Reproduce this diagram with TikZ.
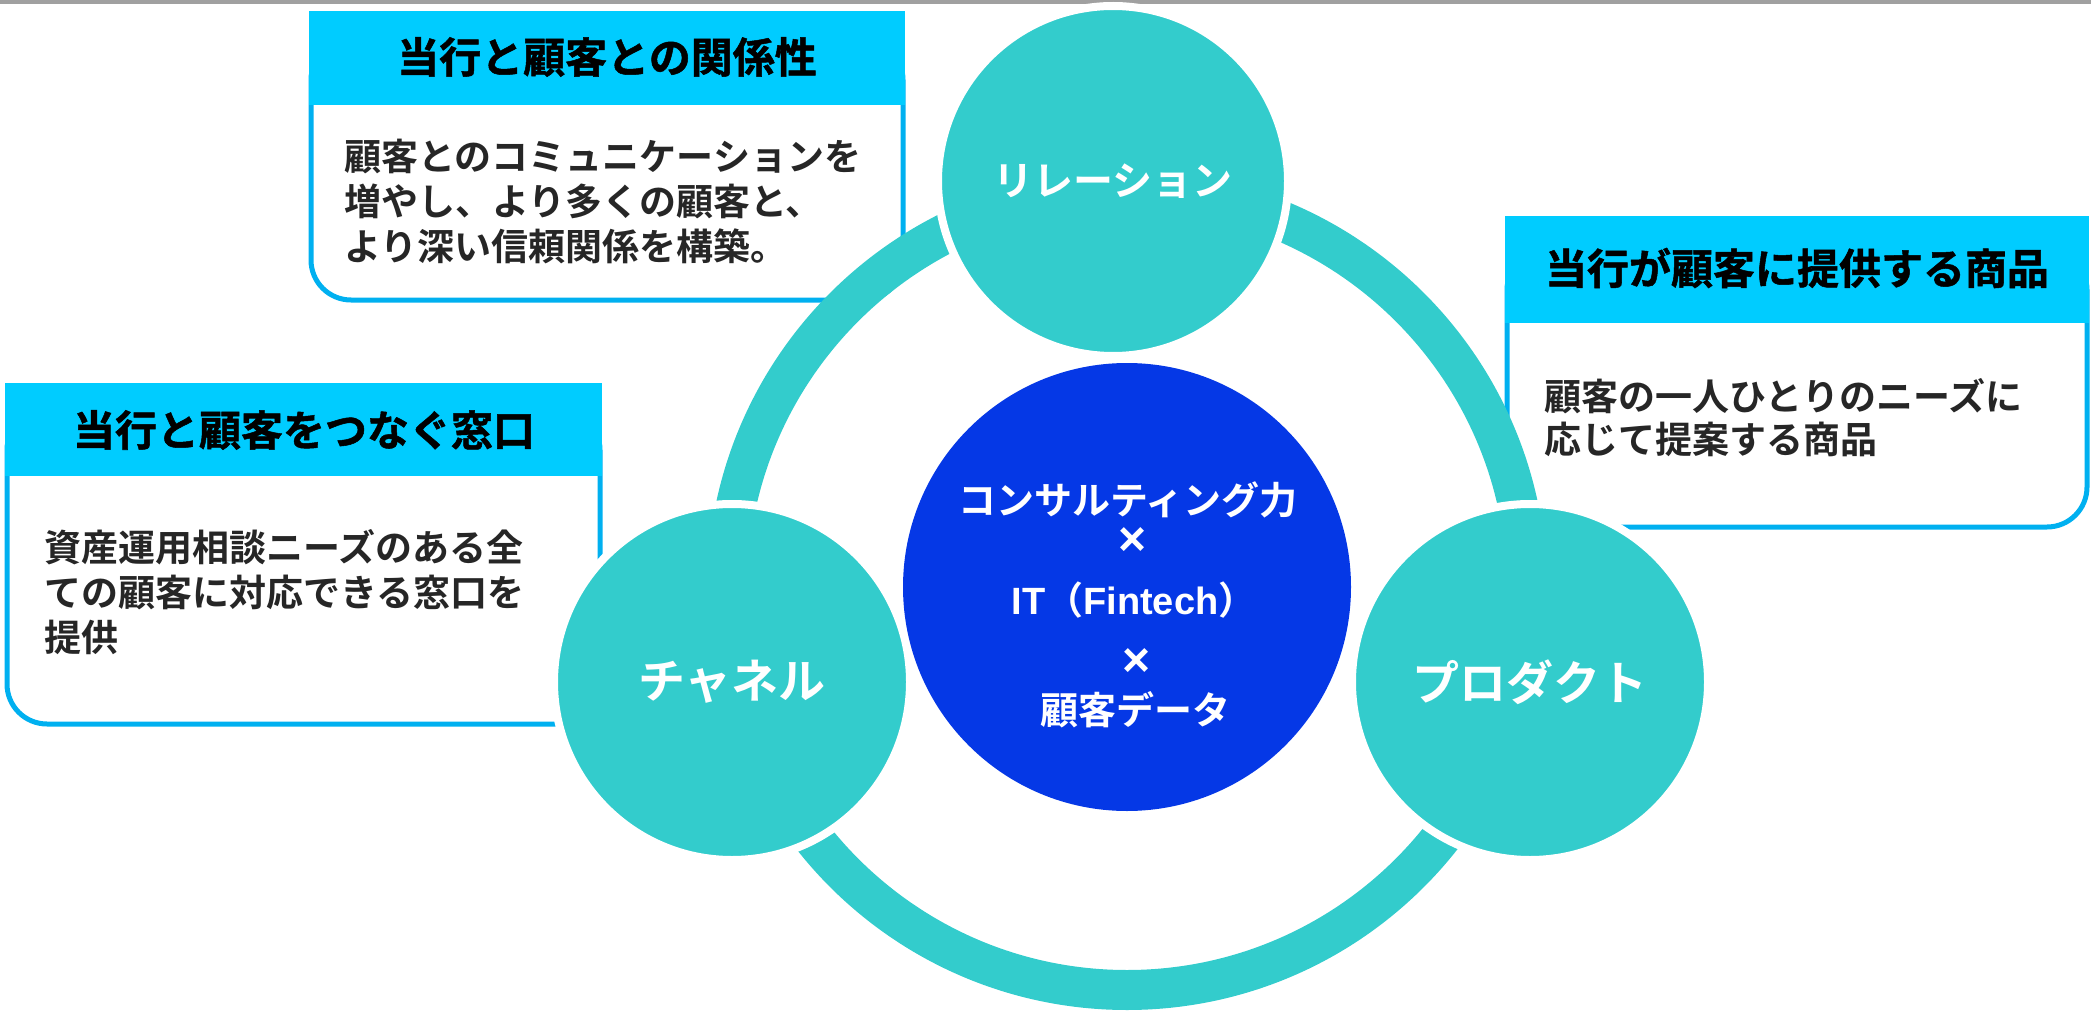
\documentclass[tikz,border=0pt]{standalone}
\usepackage{fontspec}
\setmainfont{Noto Sans CJK JP}[BoldFont={Noto Sans CJK JP Bold}]
\newfontfamily\heavyjp{Noto Sans CJK JP Bold}[FakeBold=1.2]
\newfontfamily\arialb{Liberation Sans Bold}
\definecolor{ringteal}{HTML}{33CCCC}
\definecolor{headcyan}{HTML}{00CCFF}
\definecolor{boxline}{HTML}{00B0F0}
\definecolor{coreblue}{HTML}{0538E6}
\definecolor{bodytext}{HTML}{262626}
\definecolor{topgray}{HTML}{A0A0A0}
\tikzset{
  header/.style={fill=headcyan, inner sep=0pt, anchor=north west},
  titletext/.style={inner sep=0pt, text=black, font=\heavyjp\fontsize{42}{50}\selectfont},
  bodybox/.style={draw=boxline, fill=white, line width=5pt, rounded corners=40pt},
  bodyline/.style={inner sep=0pt, anchor=base west, text=bodytext, font=\bfseries\fontsize{37}{44}\selectfont},
  ringstyle/.style={circle, draw=ringteal, line width=40pt, inner sep=0pt},
  topic/.style={circle, fill=ringteal, draw=white, line width=8pt, inner sep=0pt, text=white, font=\bfseries\fontsize{47}{52}\selectfont},
  corestyle/.style={circle, fill=coreblue, inner sep=0pt},
  coretext/.style={inner sep=0pt, text=white, font=\bfseries\fontsize{38}{44}\selectfont},
  timesign/.style={inner sep=0pt, text=white, font=\arialb\fontsize{48}{52}\selectfont}
}
\begin{document}
\begin{tikzpicture}[x=1pt,y=-1pt]
\useasboundingbox (0,0) rectangle (2091,1011);
\fill[topgray] (0,0) rectangle (2091,4);

% box 1
\draw[bodybox] (311,40) rectangle (903,300);
\node[header, minimum width=596pt, minimum height=94pt] (h1) at (309,11) {};
\node[titletext] (t1) at (607,57) {当行と顧客との関係性};
\node[bodyline] (a1) at (344,171) {顧客とのコミュニケーションを};
\node[bodyline] (a2) at (344,215) {増やし、より多くの顧客と、};
\node[bodyline] (a3) at (344,260) {より深い信頼関係を構築。};

% box 2
\draw[bodybox] (1507,250) rectangle (2087,527);
\node[header, minimum width=584pt, minimum height=107pt] (h2) at (1505,216) {};
\node[titletext] (t2) at (1797,268) {当行が顧客に提供する商品};
\node[bodyline] (b1) at (1544,410) {顧客の一人ひとりのニーズに};
\node[bodyline] (b2) at (1544,453) {応じて提案する商品};

% box 3
\draw[bodybox] (7,410) rectangle (600,724);
\node[header, minimum width=597pt, minimum height=93pt] (h3) at (5,383) {};
\node[titletext] (t3) at (304,430) {当行と顧客をつなぐ窓口};
\node[bodyline] (c1) at (44,561) {資産運用相談ニーズのある全};
\node[bodyline] (c2) at (44,606) {ての顧客に対応できる窓口を};
\node[bodyline] (c3) at (44,651) {提供};

% ring and topic circles
\node[ringstyle, minimum size=800pt] (ring) at (1127,590) {};
\node[topic, minimum size=350pt, font=\bfseries\fontsize{40}{46}\selectfont] (rel) at (1113,181) {リレーション};
\node[topic, minimum size=356pt] (chan) at (732,682) {チャネル};
\node[topic, minimum size=356pt] (prod) at (1530,682) {プロダクト};

% core
\node[corestyle, minimum size=448pt] (core) at (1127,587) {};
\node[coretext] (k1) at (1128,500) {コンサルティング力};
\node[timesign] (k2) at (1133,542) {×};
\node[coretext] (k3) at (1134,600) {{\arialb IT}（{\arialb Fintech}）};
\node[timesign] (k4) at (1137,663) {×};
\node[coretext] (k5) at (1135,710) {顧客データ};
\end{tikzpicture}
\end{document}
